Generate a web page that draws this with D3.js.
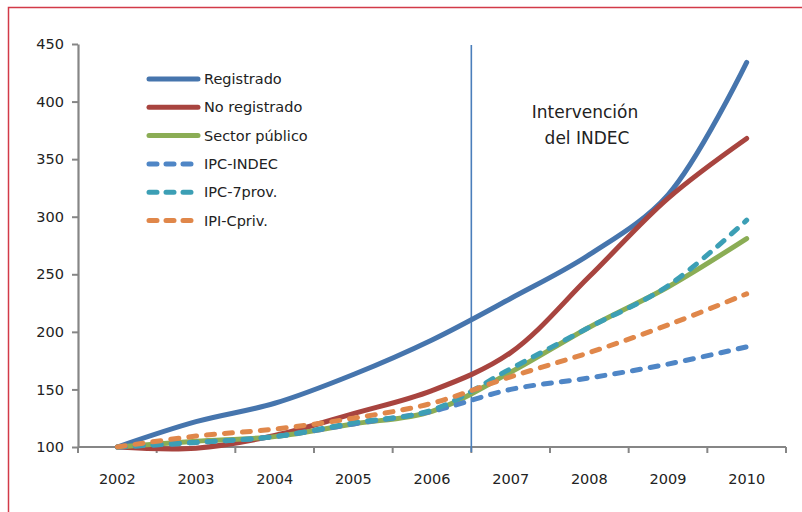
<!DOCTYPE html>
<html>
<head>
<meta charset="utf-8">
<script src="https://cdn.jsdelivr.net/npm/d3@7"></script>
<style>
body { margin: 0; background: #fff; }
svg text { font-family: "DejaVu Sans", Verdana, sans-serif; fill: #222; }
</style>
</head>
<body>
<svg id="chart" width="802" height="512"></svg>
<script>
// categories and series (index 2002 = 100)
var years = ["2002", "2003", "2004", "2005", "2006", "2007", "2008", "2009", "2010"];
var yTicks = [100, 150, 200, 250, 300, 350, 400, 450];

var registrado   = [100, 122, 138, 163, 193, 229, 267, 319, 434];
var noRegistrado = [100, 99, 110, 129, 149, 182, 248, 316, 368];
var sectorPub    = [100, 105, 109, 120, 131, 165, 204, 239, 281];
var ipcIndec     = [100, 104, 109, 120, 131, 150, 160, 172, 187];
var ipc7prov     = [100, 104, 109, 121, 132, 168, 204, 240, 297];
var ipiCpriv     = [100, 109.5, 115.5, 125, 138, 161, 182, 206, 233];

var series = [
	{ name: "Registrado", values: registrado, color: "#4675ad", dash: null },
	{ name: "No registrado", values: noRegistrado, color: "#a8443f", dash: null },
	{ name: "Sector público", values: sectorPub, color: "#8bad55", dash: null },
	{ name: "IPC-INDEC", values: ipcIndec, color: "#4f86c6", dash: "8,10" },
	{ name: "IPC-7prov.", values: ipc7prov, color: "#3c9fb5", dash: "8,10" },
	{ name: "IPI-Cpriv.", values: ipiCpriv, color: "#e0874a", dash: "8,10" }
];

var svg = d3.select("#chart");

// outer frame (only top and left visible)
svg.append("path")
	.attr("d", "M8.5,520 V7.5 H810")
	.attr("fill", "none")
	.attr("stroke", "#d23a48")
	.attr("stroke-width", 1.5);

var x = d3.scaleBand().domain(years).range([78, 786]).paddingInner(0).paddingOuter(0);
var y = d3.scaleLinear().domain([100, 450]).range([447, 44]);
var cx = d => x(d) + x.bandwidth() / 2;

// y axis
var yAxis = svg.append("g")
	.attr("transform", "translate(78,0)")
	.call(d3.axisLeft(y).tickValues(yTicks).tickSize(6).tickPadding(8).tickSizeOuter(0));
yAxis.select(".domain").attr("stroke", "#868686").attr("stroke-width", 2.2);
yAxis.selectAll(".tick line").attr("stroke", "#868686").attr("stroke-width", 2);
yAxis.selectAll(".tick text").style("font-size", "14.5px").attr("fill", "#222");

// x axis with tick marks on category boundaries
var xAxisG = svg.append("g").attr("transform", "translate(0,447)");
xAxisG.append("line")
	.attr("x1", 78).attr("x2", 786)
	.attr("stroke", "#868686").attr("stroke-width", 2.2);
var bounds = years.map(d => x(d)).concat([786]);
xAxisG.selectAll("line.tk").data(bounds).enter().append("line")
	.attr("class", "tk")
	.attr("x1", d => d).attr("x2", d => d)
	.attr("y1", 0).attr("y2", 6)
	.attr("stroke", "#868686").attr("stroke-width", 2);
xAxisG.selectAll("text").data(years).enter().append("text")
	.attr("x", d => cx(d))
	.attr("y", 37)
	.attr("text-anchor", "middle")
	.style("font-size", "14.5px")
	.text(d => d);

// intervention line
var interX = x("2007");
svg.append("line")
	.attr("x1", interX).attr("x2", interX)
	.attr("y1", 45).attr("y2", 452)
	.attr("stroke", "#4a7ebb").attr("stroke-width", 1.6);

svg.append("text")
	.attr("x", 585).attr("y", 118)
	.attr("text-anchor", "middle")
	.style("font-size", "17px")
	.text("Intervención");
svg.append("text")
	.attr("x", 587).attr("y", 144)
	.attr("text-anchor", "middle")
	.style("font-size", "17px")
	.text("del INDEC");

// lines
var line = d3.line()
	.x((d, i) => cx(years[i]))
	.y(d => y(d))
	.curve(d3.curveCatmullRom.alpha(0.5));

svg.append("g").selectAll("path")
	.data(series)
	.enter().append("path")
		.attr("d", d => line(d.values))
		.attr("fill", "none")
		.attr("stroke", d => d.color)
		.attr("stroke-width", 5)
		.attr("stroke-linecap", "round")
		.attr("stroke-dasharray", d => d.dash);

// legend
var legend = svg.append("g").selectAll("g")
	.data(series)
	.enter().append("g")
		.attr("transform", (d, i) => `translate(0, ${79 + i * 28.3})`);

legend.append("line")
	.attr("x1", 149).attr("x2", 198)
	.attr("stroke", d => d.color)
	.attr("stroke-width", 5)
	.attr("stroke-linecap", "round")
	.attr("stroke-dasharray", d => d.dash ? "8,9" : null);

legend.append("text")
	.attr("x", 204).attr("y", 5)
	.style("font-size", "14.5px")
	.text(d => d.name);
</script>
</body>
</html>
